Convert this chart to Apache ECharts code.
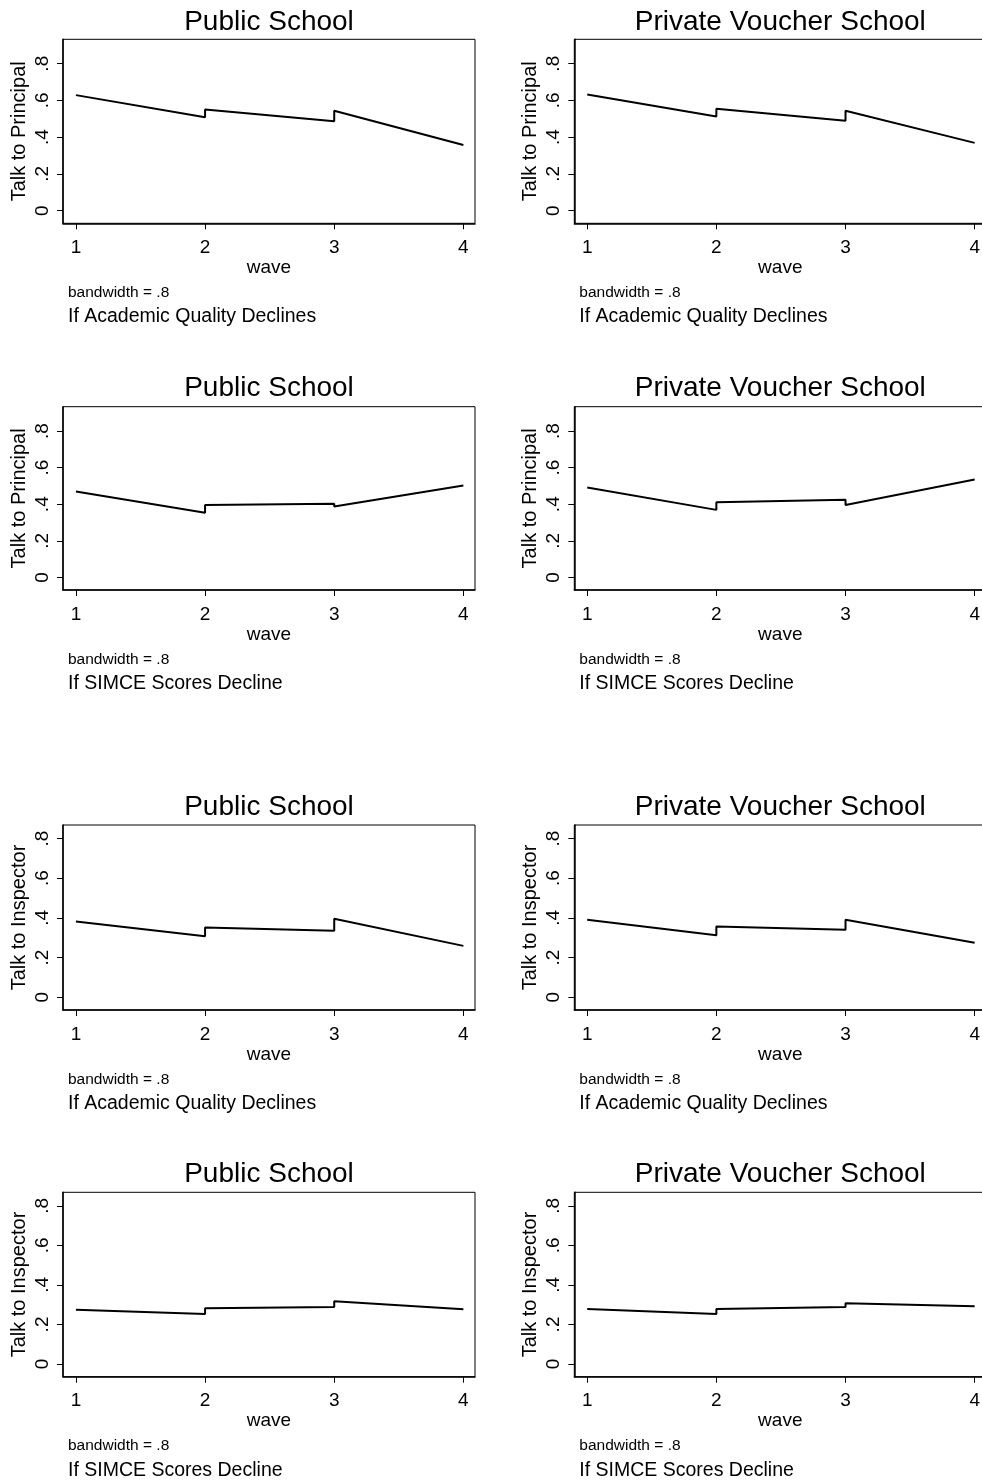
<!DOCTYPE html>
<html>
<head>
<meta charset="utf-8">
<script src="https://cdn.jsdelivr.net/npm/echarts@6/dist/echarts.min.js"></script>
<style>
html,body{margin:0;padding:0;background:#fff;}
#chart{width:982px;height:1484px;}
</style>
</head>
<body>
<div id="chart"></div>
<script>
// ---- data ----
const waveX = [1, 2, 2, 3, 3, 4];
const principalAcademicPublic  = [0.629, 0.509, 0.551, 0.487, 0.544, 0.357];
const principalAcademicVoucher = [0.633, 0.513, 0.555, 0.489, 0.544, 0.369];
const principalSimcePublic     = [0.469, 0.353, 0.396, 0.402, 0.387, 0.502];
const principalSimceVoucher    = [0.491, 0.369, 0.411, 0.424, 0.396, 0.535];
const inspectorAcademicPublic  = [0.382, 0.307, 0.352, 0.335, 0.396, 0.259];
const inspectorAcademicVoucher = [0.391, 0.312, 0.357, 0.340, 0.391, 0.275];
const inspectorSimcePublic     = [0.275, 0.253, 0.282, 0.288, 0.317, 0.277];
const inspectorSimceVoucher    = [0.278, 0.253, 0.278, 0.288, 0.307, 0.292];
const xTicks = [1, 2, 3, 4];
const yTicks = [0, 0.2, 0.4, 0.6, 0.8];
const yTickLabels = ['0', '.2', '.4', '.6', '.8'];
const colTitles = ['Public School', 'Private Voucher School'];
const rowYNames = ['Talk to Principal', 'Talk to Principal', 'Talk to Inspector', 'Talk to Inspector'];
const rowCaptions = ['If Academic Quality Declines', 'If SIMCE Scores Decline', 'If Academic Quality Declines', 'If SIMCE Scores Decline'];
const noteText = 'bandwidth = .8';
const xName = 'wave';
const panelSeries = [
  [principalAcademicPublic, principalAcademicVoucher],
  [principalSimcePublic, principalSimceVoucher],
  [inspectorAcademicPublic, inspectorAcademicVoucher],
  [inspectorSimcePublic, inspectorSimceVoucher]
];

// ---- layout ----
const FONT = "Arial, 'Liberation Sans', sans-serif";
const colLeft = [63, 574.3];
const plotW = 412;
const rowTop = [39.3, 406.7, 825, 1192.3];
const rowBottom = [223.3, 590, 1010, 1376.7];
const titleY = [22.5, 388, 807.5, 1174.5];
const yRange = [[-0.069, 0.933], [-0.069, 0.933], [-0.064, 0.868], [-0.064, 0.868]];

const grids = [], xAxes = [], yAxes = [], series = [], graphics = [];
let k = 0;
for (let r = 0; r < 4; r++) {
  for (let c = 0; c < 2; c++) {
    const left = colLeft[c], top = rowTop[r], h = rowBottom[r] - rowTop[r];
    grids.push({left: left, top: top, width: plotW, height: h, show: true,
      borderColor: '#000', borderWidth: 1, backgroundColor: 'transparent',
      containLabel: false, outerBoundsMode: 'none'});
    xAxes.push({type: 'value', gridIndex: k, min: 0.9, max: 4.09,
      name: xName, nameLocation: 'middle', nameGap: 35,
      nameTextStyle: {color: '#000', fontSize: 19, fontFamily: FONT},
      axisLine: {show: true, onZero: false, lineStyle: {color: '#000', width: 1.5}},
      axisTick: {show: true, length: 6, lineStyle: {color: '#000', width: 1}, customValues: xTicks},
      axisLabel: {color: '#000', fontSize: 19, fontFamily: FONT, margin: 15, customValues: xTicks,
        hideOverlap: false, formatter: v => String(v)},
      splitLine: {show: false}});
    yAxes.push({type: 'value', gridIndex: k, min: yRange[r][0], max: yRange[r][1],
      name: rowYNames[r], nameLocation: 'middle', nameGap: 34,
      nameTextStyle: {color: '#000', fontSize: 20, fontFamily: FONT},
      axisLine: {show: true, onZero: false, lineStyle: {color: '#000', width: 1.5}},
      axisTick: {show: true, length: 6, lineStyle: {color: '#000', width: 1}, customValues: yTicks},
      axisLabel: {color: '#000', fontSize: 19, fontFamily: FONT, margin: 11, rotate: 90,
        customValues: yTicks,
        formatter: v => { const i = yTicks.findIndex(t => Math.abs(t - v) < 1e-6); return i >= 0 ? yTickLabels[i] : ''; }},
      splitLine: {show: false}});
    const vals = panelSeries[r][c];
    series.push({type: 'line', xAxisIndex: k, yAxisIndex: k, showSymbol: false, symbol: 'none',
      data: waveX.map((x, i) => [x, vals[i]]),
      lineStyle: {color: '#000', width: 2}, silent: true, animation: false});
    graphics.push({type: 'text', x: left + plotW / 2, y: titleY[r],
      style: {text: colTitles[c], fill: '#000', font: '28px ' + FONT, fontSize: 28, fontFamily: FONT,
        align: 'center', verticalAlign: 'middle', textAlign: 'center', textVerticalAlign: 'middle'}});
    graphics.push({type: 'text', x: left + 5, y: rowBottom[r] + 69.5,
      style: {text: noteText, fill: '#000', font: '15.5px ' + FONT, fontSize: 15.5, fontFamily: FONT,
        align: 'left', verticalAlign: 'middle', textAlign: 'left', textVerticalAlign: 'middle'}});
    graphics.push({type: 'text', x: left + 5, y: rowBottom[r] + 93.5,
      style: {text: rowCaptions[r], fill: '#000', font: '19.5px ' + FONT, fontSize: 19.5, fontFamily: FONT,
        align: 'left', verticalAlign: 'middle', textAlign: 'left', textVerticalAlign: 'middle'}});
    k++;
  }
}

const chart = echarts.init(document.getElementById('chart'), null, {renderer: 'canvas'});
chart.setOption({
  backgroundColor: '#fff',
  animation: false,
  grid: grids, xAxis: xAxes, yAxis: yAxes, series: series,
  graphic: graphics
});
</script>
</body>
</html>
